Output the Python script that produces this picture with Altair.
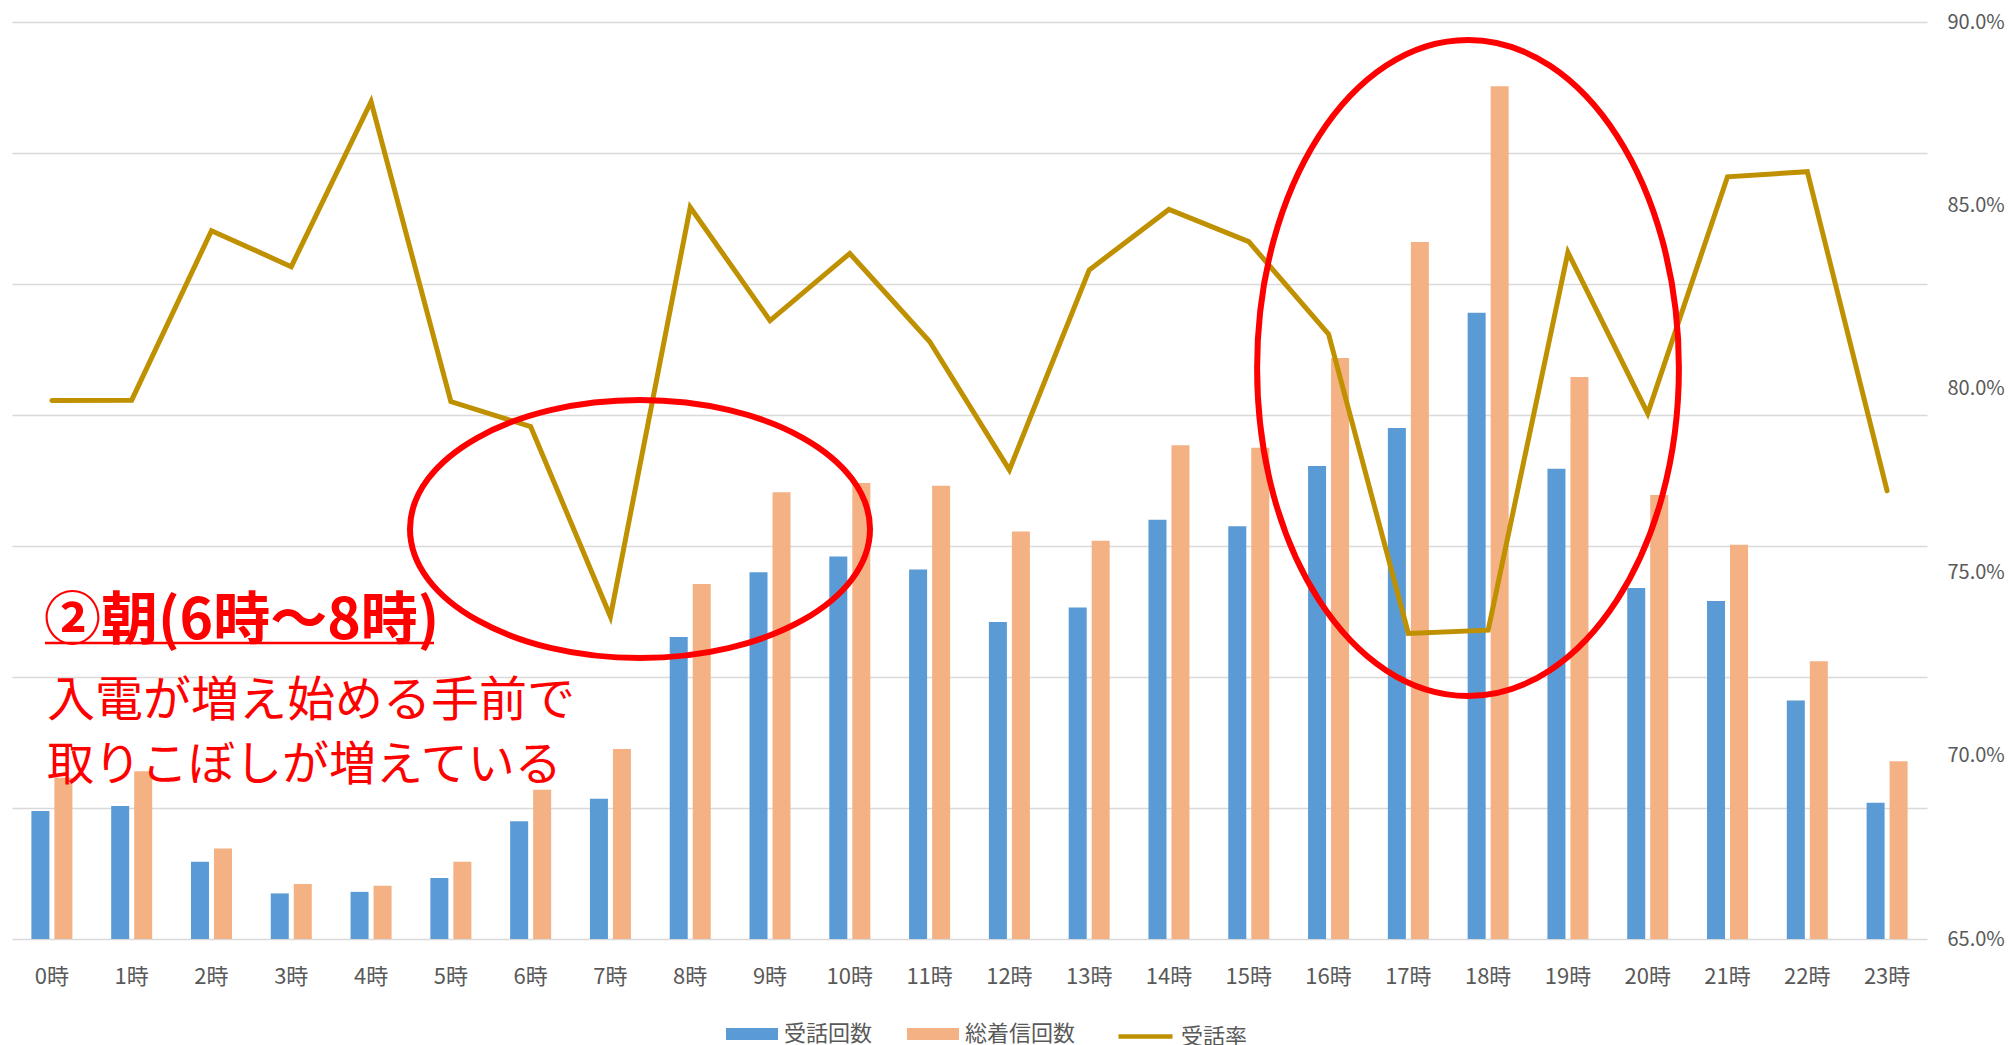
import altair as alt
import pandas as pd

# ---------------- data ----------------
hours = ["0時", "1時", "2時", "3時", "4時", "5時", "6時", "7時", "8時", "9時",
         "10時", "11時", "12時", "13時", "14時", "15時", "16時", "17時", "18時",
         "19時", "20時", "21時", "22時", "23時"]
answered = [489, 508, 295, 174, 180, 233, 449, 535, 1153, 1400, 1460, 1410,
            1210, 1265, 1600, 1575, 1805, 1950, 2390, 1795, 1340, 1290, 910, 520]
incoming = [615, 640, 345, 210, 203, 295, 570, 725, 1355, 1705, 1740, 1730,
            1555, 1520, 1885, 1875, 2218, 2660, 3255, 2145, 1695, 1505, 1060, 678]
rate = [0.7968, 0.7969, 0.8431, 0.8333, 0.8783, 0.7965, 0.7897, 0.7379,
        0.8495, 0.8186, 0.8369, 0.8129, 0.7779, 0.8324, 0.8489, 0.8401,
        0.8149, 0.7333, 0.7342, 0.8372, 0.7933, 0.8578, 0.8592, 0.7722]
series_names = ["受話回数", "総着信回数"]
rate_name = "受話率"
left_ticks = [0, 500, 1000, 1500, 2000, 2500, 3000, 3500]
right_ticks = [0.65, 0.70, 0.75, 0.80, 0.85, 0.90]
note_title = "②朝(6時～8時)"
note_lines = ["入電が増え始める手前で", "取りこぼしが増えている"]

FONT = "Noto Sans CJK JP"
GRAY = "#595959"
RED = "#FF0000"

bars_df = pd.DataFrame({
    "hour": hours + hours,
    "series": [series_names[0]] * len(hours) + [series_names[1]] * len(hours),
    "value": answered + incoming,
})
line_df = pd.DataFrame({"hour": hours, "series": rate_name, "rate": rate})
one = pd.DataFrame({"k": [0]})

x_enc = alt.X(
    "hour:N", sort=hours,
    scale=alt.Scale(paddingInner=0.486, paddingOuter=0.243),
    axis=alt.Axis(title=None, labelAngle=0, ticks=False, domain=False,
                  labelFont=FONT, labelFontSize=22, labelColor=GRAY,
                  labelPadding=27),
)

bars = alt.Chart(bars_df).mark_bar().encode(
    x=x_enc,
    xOffset=alt.XOffset("series:N", sort=series_names,
                        scale=alt.Scale(paddingInner=0.217, paddingOuter=0)),
    y=alt.Y("value:Q",
            scale=alt.Scale(domain=[0, 3500], nice=False, zero=True),
            axis=alt.Axis(values=left_ticks, labels=False, ticks=False,
                          domain=False, title=None, grid=True,
                          gridColor="#D9D9D9", gridWidth=1.3)),
    fill=alt.Fill("series:N", sort=series_names,
                  scale=alt.Scale(domain=series_names,
                                  range=["#5B9BD5", "#F4B183"]),
                  legend=alt.Legend(title=None, orient="none",
                                    direction="horizontal",
                                    legendX=714, legendY=986,
                                    symbolType="M-1,-0.23H1V0.23H-1Z",
                                    symbolSize=2704, symbolStrokeWidth=0,
                                    labelFont=FONT, labelFontSize=22,
                                    labelColor=GRAY, labelOffset=6,
                                    columnPadding=34, padding=0)),
)

line = alt.Chart(line_df).mark_line(strokeWidth=5, strokeCap="round").encode(
    x=alt.X("hour:N", sort=hours),
    y=alt.Y("rate:Q",
            scale=alt.Scale(domain=[0.65, 0.90], nice=False, zero=False),
            axis=alt.Axis(orient="right", format=".1%", values=right_ticks,
                          grid=False, ticks=False, domain=False, title=None,
                          labelFont=FONT, labelFontSize=20, labelColor=GRAY,
                          labelPadding=20, labelAlign="left")),
    stroke=alt.Stroke("series:N",
                      scale=alt.Scale(domain=[rate_name], range=["#BF9000"]),
                      legend=alt.Legend(title=None, orient="none",
                                        direction="horizontal",
                                        legendX=1104, legendY=985,
                                        symbolType="stroke", symbolSize=2916,
                                        symbolStrokeWidth=4.5,
                                        labelFont=FONT, labelFontSize=22,
                                        labelColor=GRAY, labelOffset=6,
                                        padding=0)),
)

ellipse1 = alt.Chart(one).mark_point(
    shape="M -1 0 A 1 0.561 0 1 0 1 0 A 1 0.561 0 1 0 -1 0 Z",
    size=211600, filled=False, stroke=RED, strokeWidth=6, opacity=1,
).encode(x=alt.value(628), y=alt.value(507))

ellipse2 = alt.Chart(one).mark_point(
    shape="M -0.643 0 A 0.643 1 0 1 0 0.643 0 A 0.643 1 0 1 0 -0.643 0 Z",
    size=430336, filled=False, stroke=RED, strokeWidth=6, opacity=1,
).encode(x=alt.value(1456), y=alt.value(346))

title_txt = alt.Chart(one).mark_text(
    text=note_title, align="left", baseline="alphabetic", font=FONT,
    fontSize=57, fontWeight="bold", color=RED,
).encode(x=alt.value(32), y=alt.value(617))

underline = alt.Chart(one).mark_rule(color=RED, strokeWidth=2.5).encode(
    x=alt.value(33), x2=alt.value(422), y=alt.value(621))

line2_txt = alt.Chart(one).mark_text(
    text=note_lines[0], align="left", baseline="alphabetic", font=FONT,
    fontSize=48, color=RED,
).encode(x=alt.value(35), y=alt.value(694))

line3_txt = alt.Chart(one).mark_text(
    text=note_lines[1], align="left", baseline="alphabetic", font=FONT,
    fontSize=47, color=RED,
).encode(x=alt.value(35), y=alt.value(758))

chart = alt.layer(
    bars, line, ellipse1, ellipse2, title_txt, underline, line2_txt, line3_txt
).resolve_scale(y="independent").properties(
    width=1915, height=917,
    autosize=alt.AutoSizeParams(type="none"),
    padding={"left": 4, "top": 14, "right": 79, "bottom": 106},
    background="white",
).configure_view(stroke=None)

chart.save("out.html", embed_options={"renderer": "svg", "actions": False})
